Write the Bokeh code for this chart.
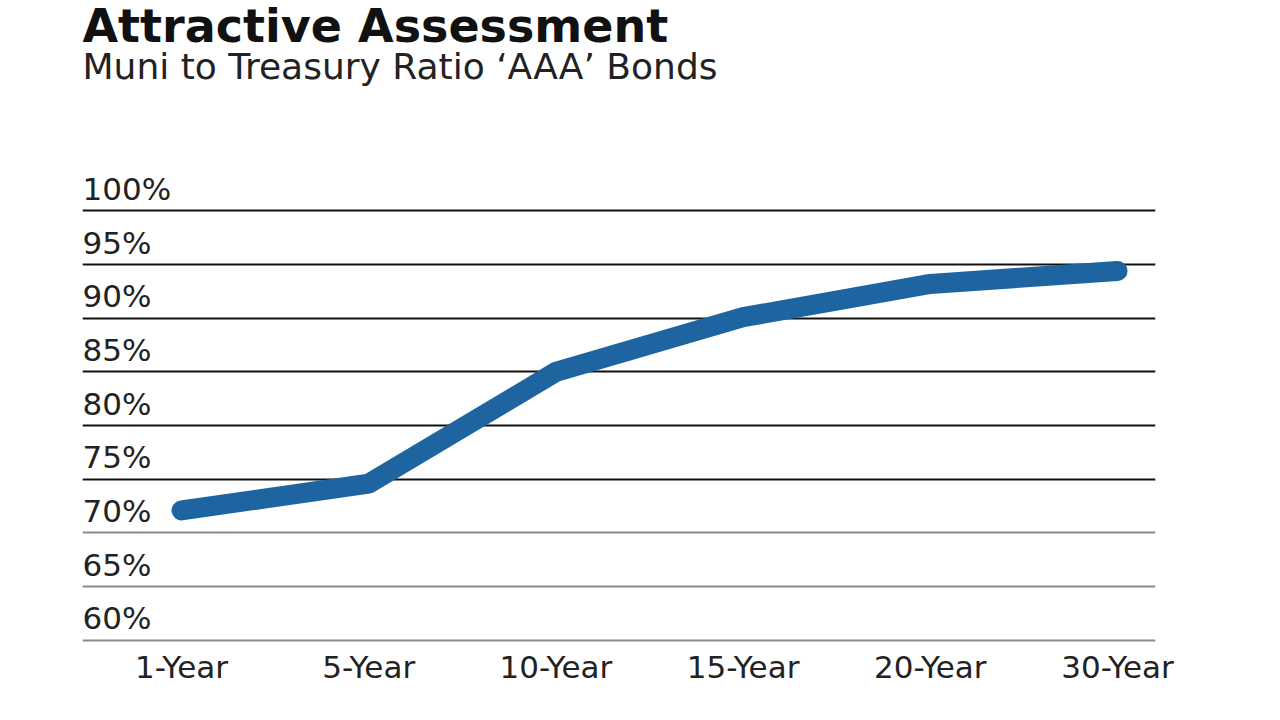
from bokeh.plotting import figure
from bokeh.models import Range1d, FixedTicker, Grid, ColumnDataSource
from bokeh.core.properties import value
from bokeh.embed import file_html
from bokeh.resources import INLINE

categories = ["1-Year", "5-Year", "10-Year", "15-Year", "20-Year", "30-Year"]
ratios = [72.1, 74.6, 85.0, 90.1, 93.2, 94.4]
tick_values = [60, 65, 70, 75, 80, 85, 90, 95, 100]
tick_labels = ["60%", "65%", "70%", "75%", "80%", "85%", "90%", "95%", "100%"]
title_text = "Attractive Assessment"
subtitle_text = "Muni to Treasury Ratio \u2018AAA\u2019 Bonds"

FONT = "DejaVu Sans"
W, H = 1264, 704
X0, X1 = -0.529, 5.203
Y0, Y1 = 59.8, 119.6
TITLE_Y, SUBTITLE_Y = 115.45, 112.10

p = figure(width=W, height=H, output_backend="svg", toolbar_location=None,
           x_range=Range1d(X0, X1), y_range=Range1d(Y0, Y1),
           min_border_left=82, min_border_right=109,
           min_border_top=0, min_border_bottom=62)
p.outline_line_color = None
p.background_fill_color = "white"
p.border_fill_color = "white"
p.grid.visible = False
p.yaxis.visible = False

xs = list(range(len(categories)))
p.xaxis.ticker = FixedTicker(ticks=xs)
p.xaxis.major_label_overrides = {i: c for i, c in enumerate(categories)}
p.xaxis.axis_line_color = None
p.xaxis.major_tick_line_color = None
p.xaxis.minor_tick_line_color = None
p.xaxis.major_label_text_font = FONT
p.xaxis.major_label_text_font_size = "31px"
p.xaxis.major_label_text_color = "#222222"
p.xaxis.major_label_standoff = 0

g1 = Grid(dimension=1, ticker=FixedTicker(ticks=[t for t in tick_values if t >= 75]),
          grid_line_color="#111111", grid_line_width=2)
g2 = Grid(dimension=1, ticker=FixedTicker(ticks=[t for t in tick_values if t < 75]),
          grid_line_color="#8a8a8a", grid_line_width=2)
p.add_layout(g1)
p.add_layout(g2)

src = ColumnDataSource(dict(x=[X0] * len(tick_values), y=tick_values, t=tick_labels))
p.text(x="x", y="y", text="t", source=src, text_font=value(FONT),
       text_font_size="31px", text_color="#222222", text_align="left",
       text_baseline="alphabetic", y_offset=-22)

p.line(xs, ratios, line_width=20, line_color="#1e64a0",
       line_cap="round", line_join="round")

p.text(x=[X0], y=[TITLE_Y], text=[title_text], text_font=value(FONT),
       text_font_size="46px", text_font_style="bold", text_color="#111111",
       text_align="left", text_baseline="alphabetic", y_offset=-19)
p.text(x=[X0], y=[SUBTITLE_Y], text=[subtitle_text], text_font=value(FONT),
       text_font_size="36px", text_color="#222222",
       text_align="left", text_baseline="alphabetic", y_offset=-15)

open("out.html", "w").write(file_html(p, INLINE))
